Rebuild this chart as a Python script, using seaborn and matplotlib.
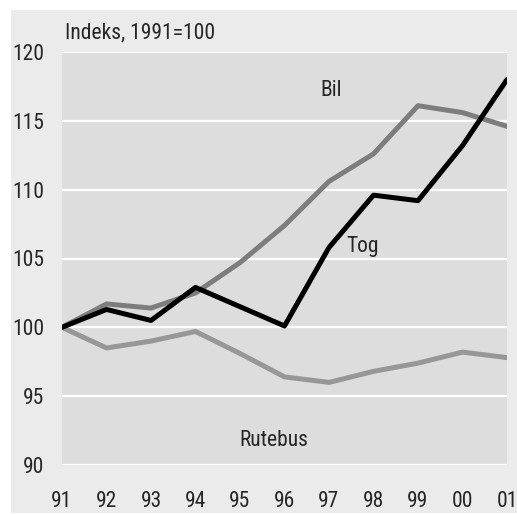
import matplotlib
matplotlib.use("Agg")
import matplotlib.pyplot as plt
import seaborn as sns
import pandas as pd
from matplotlib.patches import Rectangle

# datos (indeks, 1991=100)
aar = [1991, 1992, 1993, 1994, 1995, 1996, 1997, 1998, 1999, 2000, 2001]
aar_labels = ["91", "92", "93", "94", "95", "96", "97", "98", "99", "00", "01"]
bil = [100, 101.7, 101.4, 102.5, 104.7, 107.4, 110.6, 112.6, 116.1, 115.6, 114.6]
tog = [100, 101.3, 100.5, 102.9, 101.5, 100.1, 105.8, 109.6, 109.2, 113.2, 118.0]
rutebus = [100, 98.5, 99.0, 99.7, 98.1, 96.4, 96.0, 96.8, 97.4, 98.2, 97.8]

farger = {"Bil": "#7d7d7d", "Tog": "#000000", "Rutebus": "#979797"}

df = pd.DataFrame({"aar": aar, "Bil": bil, "Tog": tog, "Rutebus": rutebus})
df_long = df.melt(id_vars="aar", var_name="serie", value_name="indeks")

sns.set_style("white")
plt.rcParams["font.family"] = ["Roboto Condensed", "Liberation Sans Narrow", "Roboto", "DejaVu Sans"]
fs = 15.5

fig = plt.figure(figsize=(5.17, 5.15), dpi=100)
fig.patch.set_facecolor("white")
# panel gris de fondo
fig.add_artist(Rectangle((11 / 517, 2 / 515), 506 / 517, 503 / 515,
                         transform=fig.transFigure, facecolor="#ebebeb",
                         edgecolor="none", zorder=-10))

ax = fig.add_axes([62 / 517, 50 / 515, 445 / 517, 413 / 515])
ax.set_facecolor("#dddddd")

for y in range(90, 121, 5):
    ax.axhline(y, color="white", linewidth=1.6, zorder=1)

# orden de dibujo: rutebus, bil, tog encima
for serie in ["Rutebus", "Bil", "Tog"]:
    d = df_long[df_long["serie"] == serie]
    sns.lineplot(data=d, x="aar", y="indeks", color=farger[serie],
                 linewidth=3.6, ax=ax, zorder=3, legend=False)

ax.set_xlim(1991, 2001)
ax.set_ylim(90, 120)
ax.set_xticks(aar)
ax.set_xticklabels(aar_labels)
ax.set_yticks(range(90, 121, 5))
ax.tick_params(axis="x", length=0, pad=19, labelsize=fs)
ax.tick_params(axis="y", length=0, pad=13, labelsize=fs)
ax.set_xlabel("")
ax.set_ylabel("")
for s in ax.spines.values():
    s.set_visible(False)

ax.text(1991 + 3 / 44.5, 121.0, "Indeks, 1991=100", fontsize=fs, ha="left", va="baseline")

ax.text(1997.05, 117.2, "Bil", fontsize=fs, ha="center", va="center")
ax.text(1997.75, 105.9, "Tog", fontsize=fs, ha="center", va="center")
ax.text(1995.76, 91.8, "Rutebus", fontsize=fs, ha="center", va="center")

fig.savefig("out.png", dpi=100, facecolor=fig.get_facecolor())
